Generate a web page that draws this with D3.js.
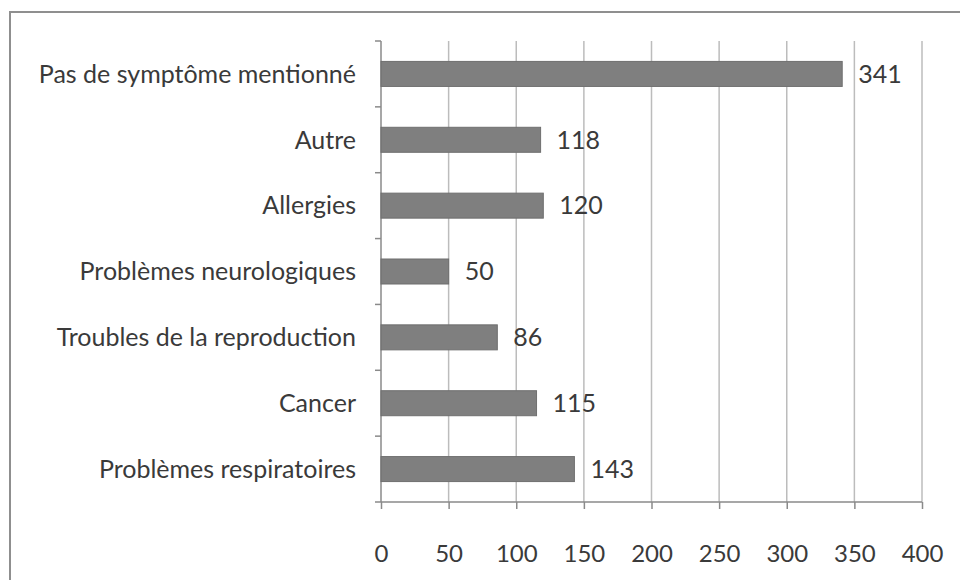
<!DOCTYPE html>
<html>
<head>
<meta charset="utf-8">
<script src="https://cdn.jsdelivr.net/npm/d3@7"></script>
<style>
  body { margin: 0; background: #fff; }
  text { font-family: Lato, 'Open Sans', sans-serif; fill: #3a3a3a; }
</style>
</head>
<body>
<script>
// chart data, top to bottom
var categories = [
    "Pas de symptôme mentionné",
    "Autre",
    "Allergies",
    "Problèmes neurologiques",
    "Troubles de la reproduction",
    "Cancer",
    "Problèmes respiratoires"
]
var values = [341, 118, 120, 50, 86, 115, 143]
var xTicks = [0, 50, 100, 150, 200, 250, 300, 350, 400]

var w = 960
var h = 580

var svg = d3.select("body")
    .append("svg")
    .attr("width", w)
    .attr("height", h)

// outer frame
svg.append("rect")
    .attr("x", 10)
    .attr("y", 12)
    .attr("width", w)
    .attr("height", h)
    .attr("fill", "none")
    .attr("stroke", "#8f8f8f")
    .attr("stroke-width", 2)

// scales
var xScale = d3.scaleLinear()
    .domain([0, 400])
    .range([381, 922])

var yScale = d3.scaleBand()
    .domain(categories)
    .range([41, 502])

var barH = 25

// vertical gridlines
svg.selectAll("line.grid")
    .data(xTicks.slice(1))
    .enter()
    .append("line")
    .attr("class", "grid")
    .attr("x1", function(d) { return xScale(d) })
    .attr("x2", function(d) { return xScale(d) })
    .attr("y1", 41)
    .attr("y2", 502)
    .attr("stroke", "#bcbcbc")
    .attr("stroke-width", 1.5)

// x axis
var xAxis = d3.axisBottom(xScale)
    .tickValues(xTicks)
    .tickSize(7)
    .tickPadding(36)

var gx = svg.append("g")
    .attr("transform", "translate(0,502)")
    .call(xAxis)
gx.select(".domain").remove()
gx.selectAll(".tick line").attr("stroke", "#8a8a8a").attr("stroke-width", 1.5)
gx.selectAll(".tick text")
    .attr("font-size", 24)
    .attr("font-family", "Lato, 'Open Sans', sans-serif")
    .attr("fill", "#3a3a3a")
gx.append("line")
    .attr("x1", 375)
    .attr("x2", xScale(400))
    .attr("stroke", "#8a8a8a")
    .attr("stroke-width", 1.5)

// y axis line and category ticks
svg.append("line")
    .attr("x1", 381)
    .attr("x2", 381)
    .attr("y1", 41)
    .attr("y2", 502)
    .attr("stroke", "#8a8a8a")
    .attr("stroke-width", 1.5)

var bounds = categories.map(function(c) { return yScale(c) })
svg.selectAll("line.ytick")
    .data(bounds)
    .enter()
    .append("line")
    .attr("class", "ytick")
    .attr("x1", 375)
    .attr("x2", 381)
    .attr("y1", function(d) { return d })
    .attr("y2", function(d) { return d })
    .attr("stroke", "#8a8a8a")
    .attr("stroke-width", 1.5)

// category labels
svg.selectAll("text.cat")
    .data(categories)
    .enter()
    .append("text")
    .attr("class", "cat")
    .attr("x", 356)
    .attr("y", function(d) { return yScale(d) + yScale.bandwidth() / 2 })
    .attr("dy", "0.35em")
    .attr("text-anchor", "end")
    .attr("font-size", 25)
    .text(function(d) { return d })

// bars
svg.selectAll("rect.bar")
    .data(values)
    .enter()
    .append("rect")
    .attr("class", "bar")
    .attr("x", xScale(0))
    .attr("y", function(d, i) { return yScale(categories[i]) + yScale.bandwidth() / 2 - barH / 2 })
    .attr("width", function(d) { return xScale(d) - xScale(0) })
    .attr("height", barH)
    .attr("fill", "#7f7f7f")
    .attr("stroke", "#6f6f6f")
    .attr("stroke-width", 1)

// value labels
svg.selectAll("text.val")
    .data(values)
    .enter()
    .append("text")
    .attr("class", "val")
    .attr("x", function(d) { return xScale(d) + 16 })
    .attr("y", function(d, i) { return yScale(categories[i]) + yScale.bandwidth() / 2 })
    .attr("dy", "0.35em")
    .attr("font-size", 25)
    .text(function(d) { return d })
</script>
</body>
</html>
